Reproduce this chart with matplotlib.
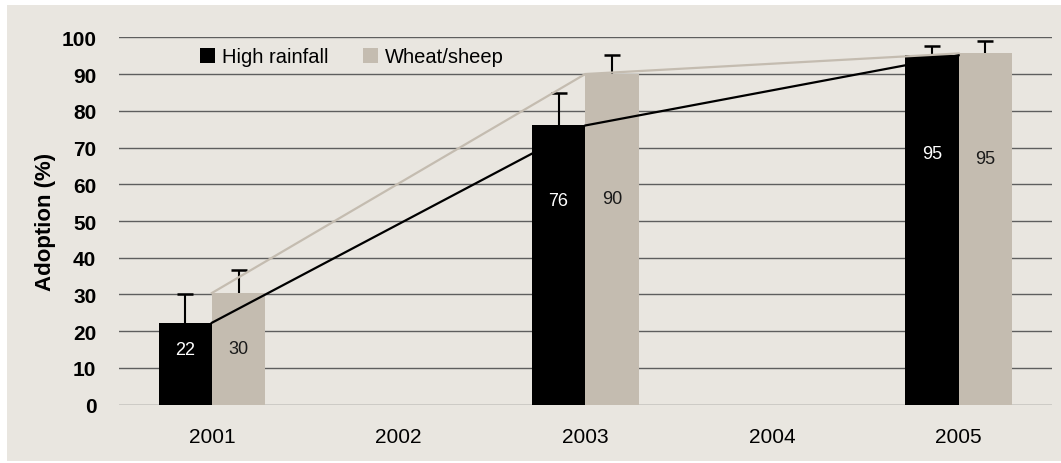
import numpy as np
import matplotlib
matplotlib.use("Agg")
import matplotlib.pyplot as plt
from matplotlib.patches import Rectangle

plt.rcParams['font.family'] = ['Liberation Sans', 'DejaVu Sans']

# data
year_labels = ['2001', '2002', '2003', '2004', '2005']
survey_years = [2001, 2003, 2005]
high_rainfall = [22.3, 76, 95.1]
wheat_sheep = [30.4, 90, 95.6]
high_err = [7.7, 8.7, 2.6]
wheat_err = [6.3, 5.3, 3.3]
# where the value labels sit inside the bars (data units)
high_label_y = [15, 55.7, 68.3]
wheat_label_y = [15.3, 56.2, 67.1]

panel_col = '#E9E6E0'
beige = '#C4BCB0'
grid_col = '#5E5E5E'

fig = plt.figure(figsize=(10.61, 4.64), dpi=100, facecolor='white')
fig.patches.append(Rectangle((7 / 1061, 2 / 464), 1054 / 1061, 456 / 464,
                             transform=fig.transFigure, facecolor=panel_col,
                             edgecolor='none', zorder=-10))

ax = fig.add_axes([0.1117, 0.1256, 0.8798, 0.7919])
ax.set_facecolor('none')
ax.set_zorder(1)

x = np.array(survey_years) - int(year_labels[0])
w = 0.2855

ax.bar(x - w / 2, high_rainfall, w, color='black', zorder=2, label='High rainfall')
ax.bar(x + w / 2, wheat_sheep, w, color=beige, zorder=2, label='Wheat/sheep')

# upper-only error bars, drop the bottom caps
for off, vals, errs in [(-w / 2, high_rainfall, high_err), (w / 2, wheat_sheep, wheat_err)]:
    eb = ax.errorbar(x + off, vals, yerr=[np.zeros(len(x)), errs], fmt='none',
                     ecolor='black', elinewidth=1.5, capsize=5.5, capthick=1.8, zorder=3)
    eb[1][0].set_visible(False)

ax.plot(x, wheat_sheep, color=beige, lw=1.6, zorder=4)
ax.plot(x, high_rainfall, color='black', lw=1.6, zorder=4)

for xi, v, ly in zip(x, high_rainfall, high_label_y):
    ax.text(xi - w / 2, ly, str(int(v)), color='white', fontsize=13,
            ha='center', va='center', zorder=5)
for xi, v, ly in zip(x, wheat_sheep, wheat_label_y):
    ax.text(xi + w / 2, ly, str(int(v)), color='#1a1a1a', fontsize=13,
            ha='center', va='center', zorder=5)

ax.set_xlim(-0.5, len(year_labels) - 0.5)
ax.set_ylim(0, 100)
ax.set_yticks(np.arange(0, 101, 10))
ax.set_xticks(range(len(year_labels)))
ax.set_xticklabels(year_labels)
ax.tick_params(axis='x', length=0, pad=16, labelsize=15)
ax.tick_params(axis='y', length=0, pad=16, labelsize=15)
for t in ax.get_yticklabels():
    t.set_fontweight('bold')

ax.grid(axis='y', color=grid_col, lw=1.0, zorder=1)
ax.set_axisbelow(True)
for s in ax.spines.values():
    s.set_visible(False)

ax.set_ylabel('Adoption (%)', fontsize=16, fontweight='bold')
ax.yaxis.set_label_coords(-0.067, 0.5)

leg = ax.legend(loc='center', bbox_to_anchor=(0.2500, 0.947), ncol=2, fontsize=14.5,
                handlelength=0.75, handleheight=0.75, handletextpad=0.35,
                columnspacing=1.7, borderpad=0.25, frameon=True, fancybox=False)
leg.get_frame().set_facecolor(panel_col)
leg.get_frame().set_edgecolor('none')
leg.get_frame().set_alpha(0.6)

fig.savefig('out.png', dpi=100, facecolor='white')
